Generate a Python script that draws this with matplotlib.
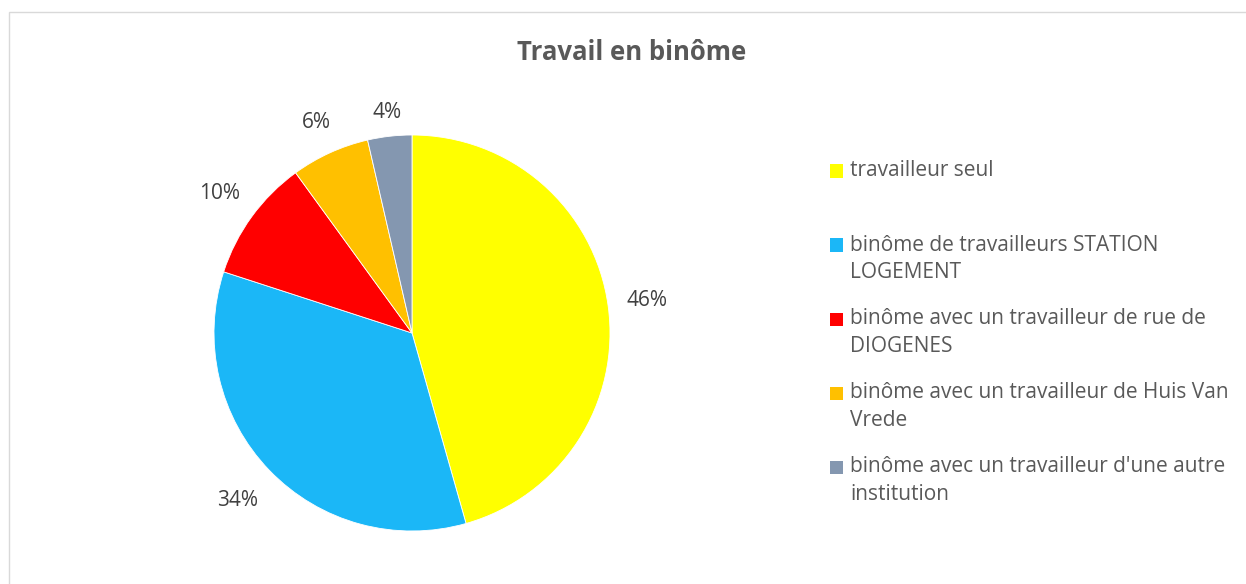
import numpy as np
import matplotlib.pyplot as plt
from matplotlib.patches import Rectangle

categories = [
    "travailleur seul",
    "binôme de travailleurs STATION\nLOGEMENT",
    "binôme avec un travailleur de rue de\nDIOGENES",
    "binôme avec un travailleur de Huis Van\nVrede",
    "binôme avec un travailleur d'une autre\ninstitution",
]
values = [45.6, 34.4, 10.0, 6.4, 3.6]
colors = ["#FFFF00", "#1BB7F7", "#FF0000", "#FFC000", "#8497B0"]

W, H = 1246, 584
fig = plt.figure(figsize=(W / 100, H / 100), dpi=100)
plt.rcParams["font.family"] = ["Open Sans", "DejaVu Sans"]
txt = "#595959"

# light frame around chart area
fig.patches.append(Rectangle((8.5 / W, -0.05), 1.1, (H - 11.5) / H + 0.05,
                             transform=fig.transFigure, fill=False,
                             edgecolor="#D9D9D9", linewidth=1))

fig.text(632 / W, 1 - 52 / H, "Travail en binôme", ha="center", va="center",
         fontsize=18.5, fontweight="bold", color=txt)

# pie
cx, cy, r = 412, 333, 198
ax = fig.add_axes([(cx - r) / W, (H - cy - r) / H, 2 * r / W, 2 * r / H])
wedges, _ = ax.pie(values, colors=colors, startangle=90, counterclock=False, radius=1,
                   wedgeprops=dict(edgecolor="white", linewidth=0.6))
ax.set_xlim(-1, 1)
ax.set_ylim(-1, 1)

# percentage labels, outside end like Excel
label_dist = [1.2, 1.22, 1.2, 1.17, 1.12]
total = sum(values)
for w, v, d in zip(wedges, values, label_dist):
    a = np.deg2rad((w.theta1 + w.theta2) / 2)
    ax.text(d * np.cos(a), d * np.sin(a), f"{v / total * 100:.0f}%",
            ha="center", va="center", fontsize=15, color="#404040")

# legend drawn by hand (Excel spacing is uneven between entries)
legend_y = [171, 245, 319, 393, 467]
line_h = 28
for lab, col, y in zip(categories, colors, legend_y):
    fig.patches.append(Rectangle((830 / W, 1 - (y + 6.5) / H), 13 / W, 13 / H,
                                 transform=fig.transFigure, facecolor=col, edgecolor="none"))
    for i, line in enumerate(lab.split("\n")):
        fig.text(850 / W, 1 - (y + i * line_h) / H, line, ha="left", va="center",
                 fontsize=15, color=txt)

fig.savefig("out.png", dpi=100)
